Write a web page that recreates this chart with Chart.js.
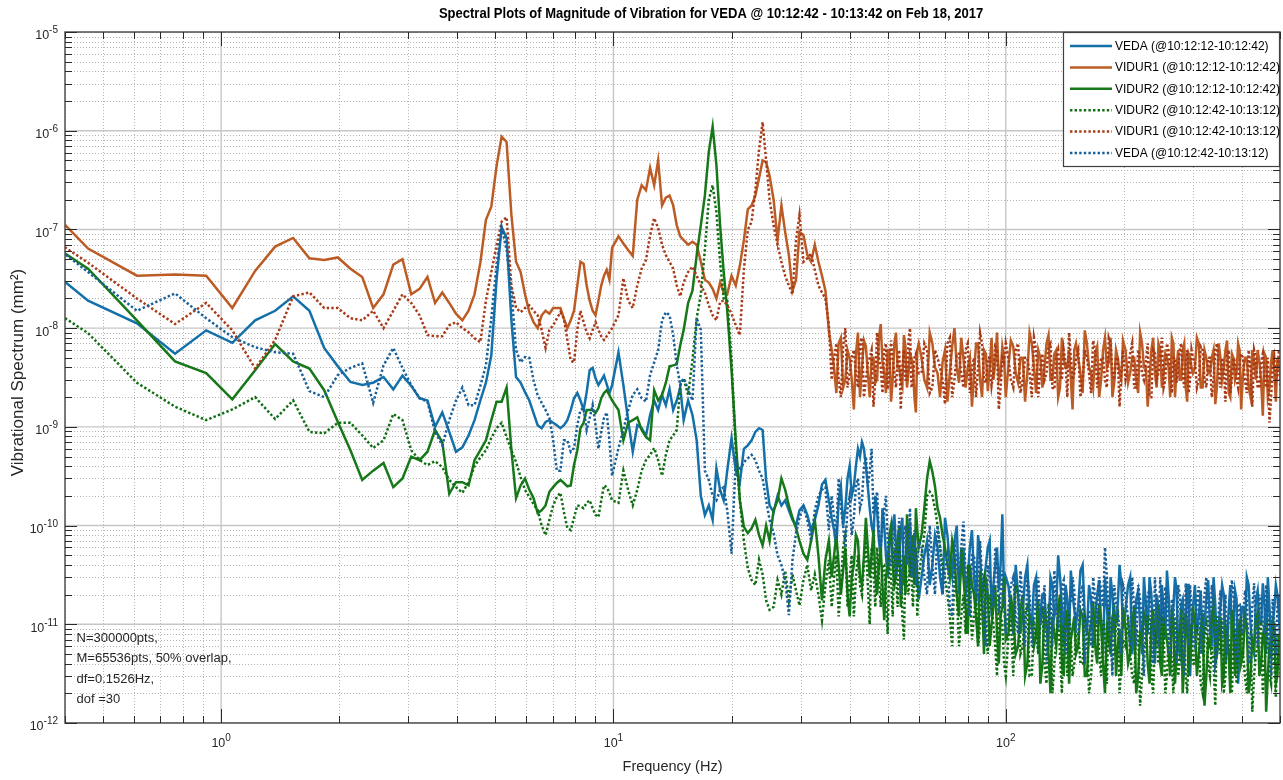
<!DOCTYPE html>
<html><head><meta charset="utf-8">
<script src="https://cdn.jsdelivr.net/npm/chart.js@4.4.1/dist/chart.umd.min.js"></script>
<style>html,body{margin:0;padding:0;background:#fff;}canvas{display:block;}</style>
</head><body>
<canvas id="c" width="1283" height="780"></canvas>
<script>
// ---------------- text ----------------
const TITLE = 'Spectral Plots of Magnitude of Vibration for VEDA @ 10:12:42 - 10:13:42 on Feb 18, 2017';
const X_TITLE = 'Frequency (Hz)';
const Y_TITLE = 'Vibrational Spectrum (mm\u00B2)';
const NOTE_LINES = ['N=300000pts,', 'M=65536pts, 50% overlap,', 'df=0.1526Hz,', 'dof =30'];
const SERIES_LABELS = ['VEDA (@10:12:12-10:12:42)', 'VIDUR1 (@10:12:12-10:12:42)', 'VIDUR2 (@10:12:12-10:12:42)',
  'VIDUR2 (@10:12:42-10:13:12)', 'VIDUR1 (@10:12:42-10:13:12)', 'VEDA (@10:12:42-10:13:12)'];
const X_MIN = 0.4, X_MAX = 500, Y_MIN = 1e-12, Y_MAX = 1e-5;

// ---------------- frequencies (Hz) ----------------
const freqLow = [0.305,0.458,0.610,0.763,0.916,1.068,1.221,1.373,1.526,1.679,
 1.831,1.984,2.136,2.289,2.441,2.594,2.747,2.899,3.052,3.205,
 3.357,3.510,3.662,3.815,3.968,4.120,4.273,4.425,4.578,4.731,
 4.883,5.036,5.188,5.341,5.494,5.646,5.799,5.951,6.104,6.257,
 6.409,6.562,6.714,6.867,7.020,7.172,7.325,7.477,7.630,7.783,
 7.935,8.088,8.240,8.393,8.546,8.698,8.851,9.003,9.156,9.309,
 9.461,9.614,9.766,9.919];
const freqMid = [10.3,10.6,10.9,11.2,11.5,11.8,12.1,12.4,12.7,13.0,
 13.3,13.6,13.9,14.2,14.5,14.8,15.1,15.5,15.9,16.3,
 16.7,17.1,17.5,17.9,18.3,18.7,19.1,19.5,20.0,20.5,
 21.0,21.5,22.0,22.5,23.0,23.5,24.0,24.5,25.0,25.6,
 26.2,26.8,27.4,28.0,28.6,29.2,29.8,30.5,31.2,31.9,
 32.6,33.3,34.0,34.7,35.4];
const freqHigh = [36,37,38,39,40,41,42,43,44,45,46,47,48,49,50,51,52,53,54,55,56,57,58,59,60,
 62,64,66,68,70,72,74,76,78,80,82,84,86,88,90,92,94,96,98,100,
 103,106,109,112,115,118,121,124,127,130,133,136,139,142,145,148,151,
 155,159,163,167,171,175,179,183,187,191,195,199,
 205,210,215,220,225,230,235,240,245,250,255,260,265,270,275,280,285,290,295,300,
 307,314,321,328,335,342,349,356,363,370,377,384,391,398,
 407,416,425,434,443,452,461,470,479,488,497,
 502];
const freqHigh2 = [36.5,37.5,38.5,39.5,40.5,41.5,42.5,43.5,44.5,45.5,46.5,47.5,48.5,49.5,50.5,51.5,52.5,53.5,54.5,55.5,56.5,57.5,58.5,59.5,
 61,63,65,67,69,71,73,75,77,79,81,83,85,87,89,91,93,95,97,99,
 101.5,104.5,107.5,110.5,113.5,116.5,119.5,122.5,125.5,128.5,131.5,134.5,137.5,140.5,143.5,146.5,149.5,
 153,157,161,165,169,173,177,181,185,189,193,197,
 202,207.5,212.5,217.5,222.5,227.5,232.5,237.5,242.5,247.5,252.5,257.5,262.5,267.5,272.5,277.5,282.5,287.5,292.5,297.5,
 303.5,310.5,317.5,324.5,331.5,338.5,345.5,352.5,359.5,366.5,373.5,380.5,387.5,394.5,
 402.5,411.5,420.5,429.5,438.5,447.5,456.5,465.5,474.5,483.5,492.5,
 499.5];

// ---------------- VEDA solid ----------------
const vedaSolidLow = [7.1e-8,1.9e-8,1.12e-8,5.5e-9,9.5e-9,7.1e-9,1.2e-8,1.5e-8,2.1e-8,1.5e-8,
 6.3e-9,4.1e-9,2.85e-9,2.65e-9,2.8e-9,3.2e-9,2.4e-9,3.3e-9,2.6e-9,1.95e-9,
 1.85e-9,1.0e-9,1.4e-9,8.9e-10,5.6e-10,6.2e-10,8.2e-10,1.17e-9,1.85e-9,2.8e-9,
 5.3e-9,3.1e-8,1.05e-7,8.2e-8,1.2e-8,3.2e-9,2.8e-9,2.25e-9,1.85e-9,1.38e-9,
 1.04e-9,9.7e-10,1.12e-9,1.17e-9,1.1e-9,1.04e-9,9.7e-10,1.04e-9,1.17e-9,1.48e-9,
 1.95e-9,2.2e-9,1.85e-9,1.48e-9,2.25e-9,3.75e-9,3.95e-9,3.1e-9,2.65e-9,2.95e-9,
 3.3e-9,2.7e-9,2.2e-9,2.65e-9];
const vedaSolidMid = [5.7e-9,2.65e-9,1.17e-9,5.6e-10,1.04e-9,9.7e-10,8.1e-10,1.32e-9,1.85e-9,1.48e-9,
 2.1e-9,1.66e-9,2.4e-9,1.48e-9,1.85e-9,2.5e-9,1.17e-9,1.85e-9,1.32e-9,7.3e-10,
 2.0e-10,1.28e-10,1.6e-10,1.14e-10,3.8e-10,2.3e-10,1.8e-10,3.6e-10,7.7e-10,3.6e-10,
 2.75e-10,6.0e-10,6.5e-10,7.3e-10,8.9e-10,9.7e-10,9.3e-10,2.9e-10,1.6e-10,1.37e-10,
 2.0e-10,1.6e-10,1.8e-10,1.43e-10,1.14e-10,1.0e-10,1.43e-10,1.6e-10,1.28e-10,9e-11,
 1.14e-10,1.6e-10,2.6e-10,2.9e-10,1.8e-10];
const vedaSolidHigh = [1.2e-10,6e-11,2.5e-10,1.5e-10,4e-10,2.5e-10,6e-10,7e-10,4e-10,1.5e-10,8e-11,1.4e-10,5e-11,1e-10,3e-11,8e-11,1.3e-10,4e-11,9e-11,2.5e-11,7e-11,1.1e-10,3.5e-11,6e-11,1.8e-11,
 5e-11,2.5e-11,8e-11,3e-11,1.2e-10,4e-11,7e-11,2e-11,6e-11,3e-11,9e-11,1.5e-11,5e-11,2.5e-11,6e-11,1.2e-11,4e-11,2.2e-11,1.3e-10,3e-11,
 1.5e-11,4e-11,8e-12,3e-11,1.2e-11,2.5e-11,5e-12,2e-11,9e-12,3e-11,1.2e-11,5e-11,1.5e-11,2.5e-11,7e-12,2e-11,1e-11,
 3.5e-11,1.2e-11,2.5e-11,6e-12,2e-11,1e-11,3e-11,7e-12,2e-11,1.2e-11,4e-11,9e-12,
 2.5e-11,5e-12,1.8e-11,1e-11,3e-11,8e-12,2e-11,4e-12,1.5e-11,2.5e-11,7e-12,2e-11,1.1e-11,3e-11,6e-12,1.6e-11,9e-12,2.5e-11,3e-12,1.5e-11,
 8e-12,2.2e-11,1e-11,2.8e-11,6e-12,1.6e-11,1e-11,2.5e-11,4e-12,1.4e-11,8e-12,2.2e-11,2.5e-12,1.5e-11,
 9e-12,2.5e-11,6e-12,1.8e-11,1e-11,2.6e-11,5e-12,1.5e-11,1e-11,2.5e-11,1.2e-11,
 1.8e-11];
const vedaSolidHigh2 = [9e-11,1.8e-10,1e-10,3e-10,2e-10,4e-10,5e-10,6e-10,2.5e-10,1e-10,2e-10,7e-11,1.5e-10,5e-11,6e-11,1e-10,6e-11,5e-11,1.2e-10,4e-11,8e-11,5e-11,4e-11,3e-11,
 3e-11,7e-11,4e-11,6e-11,2e-11,8e-11,3e-11,1e-10,4e-11,2e-11,6e-11,3e-11,8e-11,2e-11,4e-11,7e-11,2.5e-11,6e-11,4e-11,2e-11,
 2.5e-11,8e-12,2e-11,1.4e-11,4e-11,1e-11,3e-11,1.3e-11,2e-11,7e-12,2.5e-11,1.5e-11,3e-11,6e-12,1.8e-11,3.5e-11,1.4e-11,
 1.5e-11,4e-11,8e-12,1.8e-11,1.2e-11,2.8e-11,5e-12,1.5e-11,3e-11,8e-12,1.6e-11,2.5e-11,
 1.4e-11,3e-11,8e-12,2.2e-11,5e-12,1.6e-11,3e-11,9e-12,2e-11,5e-12,1.4e-11,3.5e-11,8e-12,1.5e-11,2.2e-11,5e-12,1.8e-11,1e-11,2.5e-11,8e-12,
 2.5e-11,1.2e-11,5e-12,1.8e-11,1e-11,3e-11,5e-12,1.5e-11,2e-11,6e-12,2.5e-11,1e-11,1.8e-11,5e-12,
 1.5e-11,3e-11,1e-11,5e-12,2.2e-11,1e-11,1.6e-11,3e-11,6e-12,1.4e-11,2e-11,
 8e-12];

// ---------------- VIDUR1 solid ----------------
const vidur1SolidLow = [3.4e-7,6.4e-8,3.4e-8,3.5e-8,3.4e-8,1.6e-8,3.8e-8,6.7e-8,8.2e-8,5.1e-8,
 4.9e-8,5.2e-8,4.0e-8,3.3e-8,1.6e-8,2.2e-8,4.4e-8,5.0e-8,2.2e-8,2.5e-8,
 3.3e-8,1.8e-8,2.3e-8,1.8e-8,1.4e-8,1.2e-8,1.5e-8,2.2e-8,4.6e-8,1.25e-7,
 1.7e-7,4.4e-7,8.7e-7,7.7e-7,1.4e-7,4.7e-8,3.7e-8,2.2e-8,1.45e-8,1.15e-8,
 1.0e-8,1.35e-8,1.5e-8,1.4e-8,1.6e-8,1.6e-8,1.6e-8,1.25e-8,1.0e-8,1.2e-8,
 1.5e-8,2.7e-8,4.7e-8,4.5e-8,2.7e-8,1.9e-8,1.5e-8,1.35e-8,1.9e-8,2.7e-8,
 3.4e-8,3.9e-8,3.1e-8,6.5e-8];
const vidur1SolidMid = [8.5e-8,7.2e-8,6.2e-8,5.4e-8,2.0e-7,2.8e-7,2.5e-7,4.2e-7,2.8e-7,5.0e-7,
 1.75e-7,2.1e-7,2.2e-7,1.75e-7,1.1e-7,8.5e-8,7.8e-8,7.0e-8,7.5e-8,7.0e-8,
 4.7e-8,3.1e-8,2.9e-8,2.5e-8,2.0e-8,2.9e-8,2.3e-8,2.2e-8,3.4e-8,2.7e-8,
 4.3e-8,7.8e-8,1.6e-7,1.75e-7,2.2e-7,3.3e-7,5.0e-7,4.8e-7,3.5e-7,2.0e-7,
 7.8e-8,1.75e-7,9.4e-8,5.5e-8,2.4e-8,3.1e-8,9.4e-8,8.8e-8,5.5e-8,4.7e-8,
 7.0e-8,4.7e-8,3.4e-8,2.4e-8,9.5e-9];
const vidur1SolidHigh = [6e-9,2.2e-9,8e-9,3e-9,5e-9,1.5e-9,9e-9,4e-9,6.5e-9,2e-9,5e-9,3e-9,1.1e-8,3.5e-9,6e-9,1.8e-9,7e-9,4e-9,3e-9,8.5e-9,2.5e-9,5.5e-9,4e-9,1.4e-9,7e-9,
 3e-9,9e-9,4e-9,2e-9,6e-9,3.5e-9,1e-8,2.8e-9,5e-9,4e-9,1.6e-9,7e-9,3e-9,6e-9,2.3e-9,8e-9,4.5e-9,3e-9,6.5e-9,2e-9,
 7.5e-9,3.5e-9,5e-9,1.8e-9,9e-9,4e-9,6e-9,2.5e-9,7e-9,3e-9,5.5e-9,2e-9,8e-9,4e-9,6e-9,1.5e-9,7e-9,
 3.5e-9,9.5e-9,4e-9,2.5e-9,6.5e-9,3e-9,8e-9,4.5e-9,2e-9,6e-9,3.5e-9,7.5e-9,
 2.8e-9,5e-9,3e-9,9e-9,4e-9,1.6e-9,6e-9,3.5e-9,7e-9,2.5e-9,5.5e-9,4e-9,8e-9,2e-9,6e-9,3e-9,7e-9,1.8e-9,5e-9,3.5e-9,
 8e-9,2.5e-9,6e-9,3.5e-9,5e-9,1.7e-9,7e-9,3e-9,6e-9,2.2e-9,5.5e-9,3e-9,7e-9,1.5e-9,
 5e-9,2.5e-9,6e-9,3e-9,4.5e-9,1.3e-9,5e-9,2.5e-9,6e-9,1.8e-9,4e-9,
 3e-9];
const vidur1SolidHigh2 = [4e-9,7e-9,2.5e-9,6e-9,3e-9,5.5e-9,2e-9,7.5e-9,3.5e-9,5e-9,2.8e-9,8e-9,4.5e-9,2.2e-9,6e-9,3e-9,9e-9,4e-9,2.6e-9,6.5e-9,3.5e-9,5e-9,2e-9,6e-9,
 5e-9,2.5e-9,7e-9,3.5e-9,4.5e-9,1.8e-9,6.5e-9,4e-9,8e-9,2.5e-9,5e-9,3.5e-9,7e-9,2e-9,5.5e-9,4e-9,3e-9,9e-9,3.5e-9,5e-9,
 4e-9,6.5e-9,2.8e-9,5e-9,3.5e-9,7e-9,2.2e-9,5e-9,4e-9,8.5e-9,3e-9,6e-9,2.5e-9,5e-9,4e-9,3e-9,6e-9,
 5e-9,2.2e-9,7e-9,3.5e-9,5.5e-9,2e-9,6e-9,4e-9,8e-9,2.8e-9,5e-9,3e-9,
 6e-9,3.5e-9,5e-9,2.2e-9,7e-9,4e-9,3e-9,8e-9,2.5e-9,6e-9,3.5e-9,5e-9,2e-9,7e-9,4e-9,3e-9,6e-9,2.5e-9,5.5e-9,4e-9,
 4e-9,7e-9,2.5e-9,5e-9,3.5e-9,6e-9,2.6e-9,5e-9,4e-9,7.5e-9,2e-9,5e-9,3.5e-9,6e-9,
 3.5e-9,5e-9,2e-9,4.5e-9,6e-9,3e-9,5.5e-9,2e-9,4.5e-9,3.5e-9,5e-9,
 4e-9];

// ---------------- VIDUR2 solid ----------------
const vidur2SolidLow = [1.16e-7,4.0e-8,1.2e-8,4.6e-9,3.5e-9,1.9e-9,3.75e-9,6.9e-9,4.6e-9,3.9e-9,
 2.35e-9,1.12e-9,5.8e-10,2.9e-10,3.6e-10,4.3e-10,2.45e-10,3.0e-10,5.0e-10,4.6e-10,
 5.6e-10,9.3e-10,7.0e-10,2.1e-10,2.75e-10,2.75e-10,2.55e-10,4.6e-10,5.8e-10,7.3e-10,
 1.17e-9,1.8e-9,1.8e-9,2.5e-9,5.8e-10,1.9e-10,2.55e-10,3.0e-10,2.3e-10,1.9e-10,
 1.34e-10,1.43e-10,1.6e-10,2.2e-10,2.45e-10,2.7e-10,2.9e-10,2.7e-10,2.5e-10,2.55e-10,
 4.1e-10,5.8e-10,9.7e-10,1.1e-9,1.48e-9,1.48e-9,1.48e-9,1.38e-9,1.55e-9,1.95e-9,
 2.2e-9,2.35e-9,2.1e-9,1.85e-9];
const vidur2SolidMid = [1.48e-9,7.3e-10,1.1e-9,1.17e-9,1.25e-9,9.3e-10,7.9e-10,7.3e-10,2.35e-9,1.85e-9,
 2.1e-9,2.8e-9,4.1e-9,4.2e-9,4.3e-9,6.7e-9,9.6e-9,1.8e-8,2.4e-8,5.5e-8,
 1.1e-7,2.2e-7,6.1e-7,1.1e-6,4.5e-7,1.1e-7,3.7e-8,1.5e-8,3.75e-9,7.3e-10,
 1.8e-10,9.7e-11,8.4e-11,9.4e-11,1.14e-10,8e-11,6.3e-11,1.0e-10,7e-11,1.43e-10,
 1.8e-10,3.0e-10,2.3e-10,1.6e-10,1.2e-10,9.4e-11,7e-11,5.2e-11,4.5e-11,7e-11,
 1.14e-10,5e-11,1.75e-11,4.5e-11,7e-11];
const vidur2SolidHigh = [3e-11,8e-11,2e-11,6e-11,1.2e-11,4e-11,7e-11,2.5e-11,1.2e-10,3e-11,9e-11,2e-11,6e-11,1.1e-11,4e-11,1e-10,2.5e-11,7e-11,1.5e-11,5e-11,1.3e-10,3e-11,8e-11,1.5e-10,6e-11,
 1.5e-10,4.5e-10,2.5e-10,1.2e-10,6e-11,3e-11,5e-11,1.2e-11,3e-11,8e-12,2.5e-11,1.2e-11,3.5e-11,5e-12,2e-11,1e-11,2.5e-11,4e-12,1.5e-11,7e-12,
 2e-11,5e-12,1.4e-11,3e-12,1.2e-11,6e-12,1.8e-11,4e-12,1e-11,2e-12,8e-12,1.5e-11,4e-12,1.1e-11,2.5e-12,9e-12,5e-12,
 1.4e-11,3e-12,8e-12,1.7e-11,4e-12,1e-11,2e-12,7e-12,1.2e-11,3e-12,9e-12,1.5e-11,
 4e-12,1e-11,2e-12,8e-12,1.3e-11,4e-12,1e-11,6e-12,1.6e-11,3e-12,9e-12,5e-12,1.3e-11,2.5e-12,8e-12,1.4e-11,4e-12,1e-11,6e-12,1.5e-11,
 3e-12,9e-12,1.5e-12,7e-12,1.2e-11,4e-12,9e-12,2.5e-12,1e-11,5e-12,1.4e-11,3e-12,8e-12,4e-12,
 1.2e-11,2e-12,7e-12,1.1e-11,3e-12,8e-12,1.3e-12,6e-12,1.1e-11,2.5e-12,7e-12,
 4e-12];
const vidur2SolidHigh2 = [5e-11,4e-11,3.5e-11,2e-11,3e-11,8e-11,3e-11,5e-11,6e-11,5e-11,3e-11,4e-11,2.5e-11,3e-11,8e-11,4e-11,3e-11,1e-10,3e-11,2e-11,7e-11,5e-11,2.5e-11,9e-11,
 8e-11,3e-10,3.5e-10,1.5e-10,8e-11,4e-11,7e-11,2e-11,6e-11,1.5e-11,4e-11,2e-11,6e-12,1.8e-11,3e-11,6e-12,1.5e-11,8e-12,1.2e-11,3e-11,
 8e-12,1.2e-11,6e-12,2e-11,4e-12,1e-11,8e-12,2.5e-12,1.5e-11,5e-12,1.2e-11,6e-12,2e-11,3e-12,1.4e-11,7e-12,1.2e-11,
 6e-12,1.2e-11,3e-12,1e-11,6e-12,1.6e-11,4e-12,9e-12,5e-12,1.4e-11,6e-12,3e-12,
 9e-12,5e-12,1.5e-11,3e-12,7e-12,1.1e-11,2.5e-12,1.4e-11,8e-12,4e-12,1.2e-11,7e-12,3e-12,1.1e-11,5e-12,8e-12,2e-12,1.3e-11,3e-12,8e-12,
 1e-11,5e-12,1.3e-11,3e-12,6e-12,1.5e-11,5e-12,1.2e-11,3e-12,8e-12,2e-12,1e-11,6e-12,1.1e-11,
 5e-12,1e-11,3e-12,6e-12,1.3e-11,4e-12,9e-12,3e-12,5e-12,1e-11,3e-12,
 8e-12];

// ---------------- VIDUR2 dotted ----------------
const vidur2DottedLow = [2.55e-8,8.9e-9,2.8e-9,1.6e-9,1.17e-9,1.5e-9,2.0e-9,1.2e-9,1.85e-9,8.9e-10,
 8.6e-10,1.1e-9,1.1e-9,8.2e-10,6.1e-10,7.3e-10,1.35e-9,1.17e-9,5.8e-10,4.6e-10,
 4.1e-10,4.5e-10,3.9e-10,2.9e-10,2.45e-10,2.15e-10,2.75e-10,4.0e-10,4.9e-10,5.8e-10,
 7.7e-10,9.7e-10,1.1e-9,7.9e-10,5.8e-10,4.4e-10,3.1e-10,2.3e-10,1.95e-10,1.65e-10,
 1.43e-10,1.0e-10,8e-11,1.14e-10,1.6e-10,1.95e-10,2.15e-10,1.37e-10,9.4e-11,9e-11,
 1.2e-10,1.6e-10,1.57e-10,1.5e-10,1.7e-10,1.8e-10,1.5e-10,1.28e-10,1.22e-10,1.8e-10,
 2.55e-10,2.45e-10,2.15e-10,1.8e-10];
const vidur2DottedMid = [1.7e-10,3.6e-10,2.3e-10,1.6e-10,2.3e-10,3.6e-10,4.6e-10,5.2e-10,6.1e-10,4.6e-10,
 3.2e-10,5.2e-10,7.3e-10,8.2e-10,9.3e-10,2.65e-9,3.1e-9,2.1e-9,4.75e-9,1.26e-8,
 2.2e-8,6.2e-8,2.0e-7,2.8e-7,1.5e-7,4.7e-8,2.0e-8,1.9e-8,4.75e-9,5.8e-10,
 1.8e-10,7e-11,3.7e-11,2.8e-11,2.5e-11,4.5e-11,3.2e-11,1.75e-11,1.4e-11,1.5e-11,
 2.8e-11,2e-11,3.5e-11,1.75e-11,3.2e-11,2.2e-11,1.55e-11,2.8e-11,4e-11,2.2e-11,
 3.2e-11,2e-11,1.1e-11,2.5e-11,4.5e-11];
const vidur2DottedHigh = [1.5e-11,5e-11,2.5e-11,8e-11,3e-11,1.2e-11,5e-11,2e-11,7e-11,1e-11,3.5e-11,6e-11,1.5e-11,4e-11,8e-12,3e-11,6e-11,1.5e-11,4e-11,7e-12,2.5e-11,5e-11,1.5e-11,6e-11,3e-11,
 8e-11,2.2e-10,1.5e-10,6e-11,3e-11,1.2e-11,3.5e-11,6e-12,2e-11,4e-11,7e-12,2e-11,1e-11,3e-11,5e-12,1.5e-11,6e-12,2e-11,1e-11,3e-12,
 1.2e-11,2.5e-11,5e-12,1.3e-11,3e-12,1e-11,5e-12,1.5e-11,2.5e-12,9e-12,4e-12,1.2e-11,2e-12,7e-12,1.3e-11,3e-12,8e-12,
 4e-12,1.2e-11,2e-12,7e-12,1.4e-11,3e-12,8e-12,1.5e-11,4e-12,1e-11,2e-12,7e-12,
 1.2e-11,3e-12,9e-12,1.5e-12,6e-12,1.2e-11,3e-12,8e-12,4e-12,1.1e-11,2e-12,7e-12,4e-12,1.2e-11,3e-12,6e-12,1e-11,2e-12,7e-12,4e-12,
 1e-11,2.5e-12,8e-12,4e-12,6e-12,1.5e-12,8e-12,1.1e-11,3e-12,7e-12,2e-12,9e-12,4e-12,1.2e-11,
 3e-12,7e-12,1.3e-12,5e-12,9e-12,2e-12,6e-12,3e-12,8e-12,1.8e-12,5e-12,
 3e-12];
const vidur2DottedHigh2 = [3e-11,1.2e-11,6e-11,1.5e-11,5e-11,3e-11,2.5e-11,4e-11,2.5e-11,6e-11,1.5e-11,3e-11,4e-11,2e-11,5e-11,1.2e-11,3e-11,6e-11,1.2e-11,4e-11,2e-11,3e-11,4e-11,1.2e-11,
 5e-11,2e-10,2e-10,1e-10,4e-11,2e-11,6e-12,2e-11,1.2e-11,8e-12,2.5e-11,1.2e-11,6e-12,2.5e-11,8e-12,2e-11,1e-11,3e-12,1.2e-11,4e-12,
 7e-12,3e-12,2e-11,6e-12,1.5e-11,3e-12,8e-12,1e-11,4e-12,1.6e-11,2e-12,7e-12,5e-12,1e-11,3e-12,7e-12,4e-12,
 8e-12,4e-12,1e-11,3e-12,7e-12,5e-12,1.1e-11,2.5e-12,8e-12,5e-12,1.2e-11,4e-12,
 6e-12,5e-12,2.5e-12,8e-12,3e-12,6e-12,1.2e-11,2e-12,7e-12,5e-12,9e-12,3e-12,8e-12,2e-12,9e-12,4e-12,1.2e-11,3e-12,5e-12,1e-11,
 4e-12,6e-12,2e-12,1e-11,3e-12,4e-12,1.2e-11,5e-12,2e-12,9e-12,4e-12,6e-12,2.5e-12,7e-12,
 5e-12,2e-12,8e-12,3e-12,6e-12,1e-11,4e-12,1.1e-11,2.5e-12,4e-12,8e-12,
 4e-12];

// ---------------- VIDUR1 dotted ----------------
const vidur1DottedLow = [1.35e-7,4.6e-8,2.0e-8,1.1e-8,1.8e-8,9.5e-9,3.9e-9,7.6e-9,2.1e-8,2.3e-8,
 1.6e-8,1.6e-8,1.26e-8,1.2e-8,1.5e-8,1.0e-8,1.5e-8,2.2e-8,1.8e-8,1.35e-8,
 8.5e-9,8.3e-9,8.3e-9,1.07e-8,1.15e-8,1.0e-8,9.1e-9,7.9e-9,7.2e-9,1.9e-8,
 3.7e-8,6.9e-8,1.2e-7,1.33e-7,2.7e-8,1.6e-8,1.45e-8,1.6e-8,1.7e-8,1.5e-8,
 1.35e-8,9.6e-9,6.3e-9,9.6e-9,1.07e-8,1.25e-8,1.45e-8,1.25e-8,7.6e-9,4.7e-9,
 4.5e-9,9.6e-9,1.5e-8,1.15e-8,9.1e-9,7.9e-9,9.6e-9,1.15e-8,9.6e-9,8.3e-9,
 7.6e-9,8.3e-9,9.1e-9,1.0e-8];
const vidur1DottedMid = [1.35e-8,3.2e-8,1.9e-8,1.6e-8,2.7e-8,4.0e-8,4.9e-8,8.7e-8,1.3e-7,1.03e-7,
 7.0e-8,5.5e-8,4.7e-8,4.0e-8,2.7e-8,2.1e-8,2.9e-8,3.7e-8,4.2e-8,3.4e-8,
 2.7e-8,2.3e-8,1.7e-8,1.35e-8,1.2e-8,1.85e-8,1.9e-8,1.7e-8,1.4e-8,1.07e-8,
 8.5e-9,3.9e-8,9.9e-8,1.2e-7,2.5e-7,6.4e-7,1.22e-6,5.0e-7,2.0e-7,1.1e-7,
 7.0e-8,4.7e-8,3.4e-8,2.7e-8,2.2e-8,7.8e-8,1.4e-7,4.7e-8,5.1e-8,5.7e-8,
 3.9e-8,2.7e-8,2.3e-8,2.0e-8,1.07e-8];
const vidur1DottedHigh = [3e-9,7e-9,2e-9,1e-8,3.5e-9,6e-9,2.5e-9,8e-9,3e-9,5e-9,1.6e-9,9e-9,4e-9,6e-9,2.4e-9,7.5e-9,3.5e-9,5e-9,1.5e-9,6e-9,3e-9,1e-8,2.8e-9,5.5e-9,3.5e-9,
 7e-9,2.2e-9,6e-9,4e-9,1.7e-9,8e-9,3e-9,5.5e-9,2.5e-9,7e-9,4e-9,2e-9,9e-9,3e-9,5e-9,2.6e-9,6.5e-9,1.5e-9,5e-9,7e-9,
 3e-9,6e-9,2.2e-9,5e-9,3.5e-9,8e-9,2e-9,5.5e-9,3.5e-9,7e-9,2.4e-9,6e-9,3e-9,4.5e-9,9e-9,3e-9,5e-9,
 2e-9,6e-9,3.5e-9,7.5e-9,2.5e-9,5e-9,3e-9,8e-9,3.5e-9,5e-9,1.6e-9,6e-9,
 4e-9,7e-9,2.5e-9,5e-9,3e-9,7e-9,2e-9,5.5e-9,3.5e-9,8e-9,3e-9,6e-9,2.2e-9,5e-9,4e-9,7e-9,2.5e-9,6e-9,3e-9,5e-9,
 2.5e-9,6.5e-9,3e-9,5e-9,2e-9,6e-9,3.5e-9,5e-9,1.8e-9,6e-9,3e-9,4.5e-9,2.5e-9,5.5e-9,
 3e-9,6e-9,1.6e-9,5e-9,2.5e-9,5.5e-9,2.5e-9,1.1e-9,4e-9,3e-9,6e-9,
 2.5e-9];
const vidur1DottedHigh2 = [5e-9,3e-9,6.5e-9,2.5e-9,5e-9,3.5e-9,7e-9,2e-9,4.5e-9,6e-9,3e-9,5e-9,2.2e-9,7e-9,3.5e-9,5e-9,2.5e-9,6e-9,4e-9,3e-9,7.5e-9,2.5e-9,5e-9,4e-9,
 3.5e-9,6e-9,2.5e-9,5e-9,3e-9,7e-9,2e-9,5.5e-9,3.5e-9,6e-9,2.2e-9,5e-9,4e-9,7e-9,2.8e-9,5e-9,3.5e-9,6e-9,2.5e-9,4.5e-9,
 5e-9,2.5e-9,7e-9,3e-9,5e-9,2e-9,6e-9,4e-9,3e-9,6.5e-9,2.5e-9,5e-9,3.5e-9,6e-9,2e-9,5e-9,3.5e-9,
 6e-9,3e-9,5e-9,2.2e-9,6e-9,3.5e-9,5e-9,2.5e-9,7e-9,3e-9,5e-9,3.5e-9,
 3e-9,5.5e-9,2.5e-9,6e-9,3.5e-9,4.5e-9,2e-9,6e-9,3e-9,5e-9,2.5e-9,7e-9,3.5e-9,5e-9,2.8e-9,6e-9,3.5e-9,4e-9,2.2e-9,6e-9,
 4.5e-9,3e-9,6e-9,2.5e-9,5e-9,3e-9,7e-9,2.5e-9,4e-9,5.5e-9,2.2e-9,5e-9,3e-9,4.5e-9,
 5e-9,2.2e-9,4e-9,6e-9,2.5e-9,4.5e-9,3e-9,5e-9,2e-9,5e-9,3.5e-9,
 3e-9];

// ---------------- VEDA dotted ----------------
const vedaDottedLow = [1.3e-7,3.7e-8,1.5e-8,2.25e-8,1.26e-8,8.1e-9,6.4e-9,5.7e-9,5.5e-9,2.3e-9,
 2.0e-9,3.35e-9,3.95e-9,4.4e-9,1.75e-9,4.2e-9,6.3e-9,3.95e-9,2.65e-9,1.95e-9,
 1.8e-9,8.9e-10,6.5e-10,1.17e-9,1.85e-9,2.5e-9,1.66e-9,1.66e-9,2.6e-9,4.2e-9,
 1.26e-8,4.4e-8,1.05e-7,6.2e-8,2.4e-8,6.0e-9,4.5e-9,5.1e-9,5.0e-9,2.95e-9,
 2.1e-9,1.75e-9,1.48e-9,1.23e-9,7.3e-10,3.6e-10,3.6e-10,7.3e-10,7.3e-10,5.6e-10,
 6.1e-10,1.04e-9,1.48e-9,1.55e-9,9.3e-10,1.23e-9,1.66e-9,1.04e-9,6.0e-10,8.9e-10,
 1.23e-9,1.4e-9,7.3e-10,3.2e-10];
const vedaDottedMid = [6.1e-10,9.3e-10,1.48e-9,2.1e-9,2.4e-9,1.95e-9,1.8e-9,3.35e-9,4.5e-9,6.0e-9,
 1.2e-8,1.45e-8,1.35e-8,8.5e-9,4.2e-9,2.65e-9,3.1e-9,2.4e-9,1.85e-9,1.26e-8,
 9.6e-9,3.6e-10,2.9e-10,2.0e-10,1.8e-10,2.3e-10,2.45e-10,1.43e-10,5.2e-11,4.6e-10,
 3.6e-10,4.4e-10,4.8e-10,5.2e-10,4.6e-10,3.6e-10,3.0e-10,1.8e-10,1.14e-10,8.4e-11,
 5e-11,4e-11,2.8e-11,1.24e-11,4.5e-11,8.4e-11,1.2e-10,1.55e-10,1.14e-10,7.0e-11,
 1.43e-10,2.0e-10,2.3e-10,2.45e-10,9e-11];
const vedaDottedHigh = [2e-10,9e-11,1.5e-10,6e-11,2e-10,1.2e-10,3e-10,1.8e-10,5e-10,3.5e-10,1.3e-10,2.2e-10,6e-11,1.4e-10,7e-11,4e-11,1e-10,5e-11,2e-11,8e-11,4e-11,1.5e-10,5e-11,2.5e-11,7e-11,
 3e-11,1e-10,2e-11,6e-11,3.5e-11,1.5e-11,7e-11,3e-11,1.1e-10,1.5e-11,5e-11,2.5e-11,7e-11,1e-11,4e-11,2.2e-11,6e-11,1.3e-11,3.5e-11,8e-12,
 2.5e-11,1.2e-11,3.5e-11,6e-12,2e-11,1e-11,3e-11,1.4e-11,4e-12,2e-11,3.5e-11,9e-12,2.5e-11,5e-12,1.6e-11,3e-11,8e-12,
 2e-11,4e-12,1.4e-11,3e-11,1e-11,2.2e-11,6e-11,1.2e-11,3e-12,1.6e-11,8e-12,2.5e-11,
 1.1e-11,3e-11,6e-12,1.8e-11,3e-12,2e-11,1e-11,3e-11,6e-12,1.5e-11,2.4e-11,5e-12,1.8e-11,8e-12,2.5e-11,1e-11,3e-12,1.5e-11,2.5e-11,7e-12,
 1.8e-11,5e-12,2e-11,8e-12,2.5e-11,4e-12,1.4e-11,7e-12,2e-11,1.2e-11,2.8e-11,6e-12,1.6e-11,9e-12,
 2.2e-11,4e-12,1.5e-11,8e-12,2e-11,1.1e-11,2.5e-11,6e-12,1.8e-11,5e-12,2e-11,
 1e-11];
const vedaDottedHigh2 = [1.2e-10,3e-10,1e-10,1.5e-10,8e-11,2.5e-10,1.5e-10,4e-10,2.5e-10,6e-10,1.8e-10,8e-11,1e-10,2e-10,4e-11,7e-11,3e-11,1.2e-10,4e-11,1e-10,6e-11,3e-11,9e-11,4e-11,
 6e-11,2e-11,4e-11,1e-10,2e-11,5e-11,1.2e-11,4e-11,6e-11,3e-11,1.2e-11,5e-11,2e-11,3e-11,6e-12,3e-11,1.5e-11,4e-11,2e-11,1.5e-11,
 1.4e-11,3e-11,8e-12,1.6e-11,3e-11,6e-12,2e-11,1e-11,2.5e-11,1.2e-11,6e-12,1.8e-11,1.2e-11,2.8e-11,8e-12,1.6e-11,2.2e-11,
 8e-12,2.5e-11,1e-11,6e-12,1.8e-11,3e-11,1.5e-11,3e-11,7e-12,2.5e-11,1.4e-11,5e-12,
 2e-11,6e-12,1.4e-11,2.5e-11,9e-12,1.5e-11,2.2e-11,4e-12,1.2e-11,3e-11,1e-11,2e-11,5e-12,1.5e-11,4e-12,2e-11,8e-12,2.6e-11,6e-12,1.3e-11,
 6e-12,2.4e-11,1.2e-11,3e-11,8e-12,1.8e-11,5e-12,2.2e-11,1e-11,5e-12,1.5e-11,2e-11,4e-12,1.6e-11,
 8e-12,1.8e-11,5e-12,2.6e-11,6e-12,1.5e-11,8e-12,1.4e-11,3e-12,1e-11,1.5e-11,
 1.4e-11];

// ---------------- assembly ----------------
const freqA = freqLow.concat(freqMid, freqHigh);
function points(main, extra) {
  const pts = freqA.map((f, k) => ({x: f, y: main[k]})).concat(freqHigh2.map((f, k) => ({x: f, y: extra[k]})));
  return pts.sort((p, q) => p.x - q.x);
}
const SERIES = [
  {label: SERIES_LABELS[0], data: points(vedaSolidLow.concat(vedaSolidMid, vedaSolidHigh), vedaSolidHigh2), color: '#1470a8', dash: []},
  {label: SERIES_LABELS[1], data: points(vidur1SolidLow.concat(vidur1SolidMid, vidur1SolidHigh), vidur1SolidHigh2), color: '#bc5c24', dash: []},
  {label: SERIES_LABELS[2], data: points(vidur2SolidLow.concat(vidur2SolidMid, vidur2SolidHigh), vidur2SolidHigh2), color: '#17781a', dash: []},
  {label: SERIES_LABELS[3], data: points(vidur2DottedLow.concat(vidur2DottedMid, vidur2DottedHigh), vidur2DottedHigh2), color: '#106e12', dash: [2.4, 2.2]},
  {label: SERIES_LABELS[4], data: points(vidur1DottedLow.concat(vidur1DottedMid, vidur1DottedHigh), vidur1DottedHigh2), color: '#a83a18', dash: [2.4, 2.2]},
  {label: SERIES_LABELS[5], data: points(vedaDottedLow.concat(vedaDottedMid, vedaDottedHigh), vedaDottedHigh2), color: '#1a6098', dash: [2.4, 2.2]}
];

const FONT = '"Liberation Sans", Arial, Helvetica, sans-serif';
function drawText(ctx, s, x, y, o) {
  ctx.save();
  ctx.font = (o.bold ? 'bold ' : '') + o.size + 'px ' + FONT;
  ctx.fillStyle = o.color || '#000';
  ctx.textAlign = o.align || 'left';
  ctx.textBaseline = o.baseline || 'middle';
  ctx.translate(x, y);
  if (o.rotate) ctx.rotate(o.rotate);
  ctx.scale(o.sx || 1, 1);
  ctx.fillText(s, 0, 0);
  ctx.restore();
}
function textWidth(ctx, s, size, bold) {
  ctx.save(); ctx.font = (bold ? 'bold ' : '') + size + 'px ' + FONT;
  const w = ctx.measureText(s).width; ctx.restore(); return w;
}
function logTicks(min, max) {
  const out = [];
  const e0 = Math.floor(Math.log10(min) + 1e-9), e1 = Math.ceil(Math.log10(max) - 1e-9);
  for (let e = e0; e <= e1; e++) for (let k = 1; k <= 9; k++) {
    const v = k * Math.pow(10, e);
    if (v >= min * (1 - 1e-9) && v <= max * (1 + 1e-9)) out.push({value: v, major: k === 1});
  }
  return out;
}

const BASE = 12.5, SUP = 10;
const matlabLook = {
  id: 'matlabLook',
  beforeDatasetsDraw(chart) {
    const {ctx, chartArea: a} = chart; const xs = chart.scales.x, ys = chart.scales.y;
    ctx.save();
    ctx.fillStyle = '#fff'; ctx.fillRect(a.left, a.top, a.right - a.left, a.bottom - a.top);
    ctx.beginPath(); ctx.rect(a.left, a.top, a.right - a.left, a.bottom - a.top); ctx.clip();
    ctx.strokeStyle = '#b4b4b4'; ctx.lineWidth = 1; ctx.setLineDash([1, 2]);
    ctx.beginPath();
    xs.ticks.forEach(t => { if (!t.major) { const p = Math.round(xs.getPixelForValue(t.value)) + 0.5; ctx.moveTo(p, a.top); ctx.lineTo(p, a.bottom); } });
    ys.ticks.forEach(t => { if (!t.major) { const p = Math.round(ys.getPixelForValue(t.value)) + 0.5; ctx.moveTo(a.left, p); ctx.lineTo(a.right, p); } });
    ctx.stroke();
    ctx.setLineDash([]); ctx.strokeStyle = '#c6c6c6'; ctx.lineWidth = 1.4;
    ctx.beginPath();
    xs.ticks.forEach(t => { if (t.major) { const p = xs.getPixelForValue(t.value); ctx.moveTo(p, a.top); ctx.lineTo(p, a.bottom); } });
    ys.ticks.forEach(t => { if (t.major) { const p = ys.getPixelForValue(t.value); ctx.moveTo(a.left, p); ctx.lineTo(a.right, p); } });
    ctx.stroke();
    ctx.restore();
  },
  afterDatasetsDraw(chart) {
    const {ctx, chartArea: a} = chart; const xs = chart.scales.x, ys = chart.scales.y;
    ctx.save();
    ctx.strokeStyle = '#505050'; ctx.lineWidth = 1.5;
    ctx.strokeRect(a.left, a.top, a.right - a.left, a.bottom - a.top);
    ctx.strokeStyle = '#2a2a2a'; ctx.lineWidth = 1;
    ctx.beginPath();
    xs.ticks.forEach(t => {
      const p = Math.round(xs.getPixelForValue(t.value)) + 0.5; const L = t.major ? 14 : 7;
      ctx.moveTo(p, a.bottom); ctx.lineTo(p, a.bottom - L);
      ctx.moveTo(p, a.top); ctx.lineTo(p, a.top + L);
    });
    ys.ticks.forEach(t => {
      const p = Math.round(ys.getPixelForValue(t.value)) + 0.5; const L = t.major ? 12 : 7;
      ctx.moveTo(a.left, p); ctx.lineTo(a.left + L, p);
      ctx.moveTo(a.right, p); ctx.lineTo(a.right - L, p);
    });
    ctx.stroke();
    ys.ticks.forEach(t => {
      if (!t.major) return;
      const p = ys.getPixelForValue(t.value);
      const ex = String(Math.round(Math.log10(t.value)));
      const we = textWidth(ctx, ex, SUP);
      const xr = a.left - 7;
      drawText(ctx, ex, xr - we, p - 1.5, {size: SUP, color: '#262626'});
      drawText(ctx, '10', xr - we, p + 4, {size: BASE, align: 'right', color: '#262626'});
    });
    xs.ticks.forEach(t => {
      if (!t.major) return;
      const p = xs.getPixelForValue(t.value);
      const ex = String(Math.round(Math.log10(t.value)));
      const w10 = textWidth(ctx, '10', BASE), we = textWidth(ctx, ex, SUP);
      const x0 = p - (w10 + we) / 2;
      drawText(ctx, '10', x0, a.bottom + 21, {size: BASE, color: '#262626'});
      drawText(ctx, ex, x0 + w10, a.bottom + 15, {size: SUP, color: '#262626'});
    });
    drawText(ctx, X_TITLE, (a.left + a.right) / 2, 767, {size: 14.5, align: 'center', color: '#262626'});
    drawText(ctx, Y_TITLE, 18, (a.top + a.bottom) / 2 - 5, {size: 17, align: 'center', rotate: -Math.PI / 2, color: '#262626'});
    drawText(ctx, TITLE, 711, 14.5, {size: 14, bold: true, align: 'center', sx: 0.93});
    NOTE_LINES.forEach((s, i) => drawText(ctx, s, a.left + 11.5, 638.5 + i * 20.3, {size: 13, color: '#262626'}));
    const lx0 = 1063, lx1 = a.right - 1, ly0 = a.top, ly1 = 166;
    ctx.fillStyle = '#fff'; ctx.fillRect(lx0, ly0, lx1 - lx0, ly1 - ly0);
    ctx.strokeStyle = '#404040'; ctx.lineWidth = 1.2; ctx.strokeRect(lx0 + 0.5, ly0 + 0.5, lx1 - lx0, ly1 - ly0);
    chart.data.datasets.forEach((d, i) => {
      const yy = 46 + i * 21.4;
      ctx.save();
      ctx.strokeStyle = d.borderColor; ctx.lineWidth = d.borderWidth; ctx.setLineDash(d.borderDash || []);
      ctx.beginPath(); ctx.moveTo(1070, yy); ctx.lineTo(1112, yy); ctx.stroke();
      ctx.restore();
      drawText(ctx, d.label, 1115, yy + 0.5, {size: 12, color: '#000'});
    });
    ctx.restore();
  }
};

new Chart(document.getElementById('c'), {
  type: 'line',
  data: {
    datasets: SERIES.map((s, i) => ({
      label: s.label,
      data: s.data,
      borderColor: s.color, backgroundColor: s.color,
      borderWidth: 2.5, borderDash: s.dash,
      pointRadius: 0, tension: 0, fill: false,
      order: SERIES.length - 1 - i
    }))
  },
  options: {
    responsive: false, animation: false, devicePixelRatio: 1, events: [],
    layout: {padding: {top: 32, right: 3, bottom: 0, left: 0}},
    plugins: {legend: {display: false}, tooltip: {enabled: false}, title: {display: false, text: TITLE}},
    scales: {
      x: {type: 'logarithmic', position: 'bottom', min: X_MIN, max: X_MAX,
          title: {display: false, text: X_TITLE},
          ticks: {display: false}, grid: {display: false}, border: {display: false},
          afterBuildTicks: s => { s.ticks = logTicks(X_MIN, X_MAX); },
          afterFit: s => { s.height = 57; }},
      y: {type: 'logarithmic', position: 'left', min: Y_MIN, max: Y_MAX,
          title: {display: false, text: Y_TITLE},
          ticks: {display: false}, grid: {display: false}, border: {display: false},
          afterBuildTicks: s => { s.ticks = logTicks(Y_MIN, Y_MAX); },
          afterFit: s => { s.width = 65; }}
    }
  },
  plugins: [matlabLook]
});
</script>
</body></html>
